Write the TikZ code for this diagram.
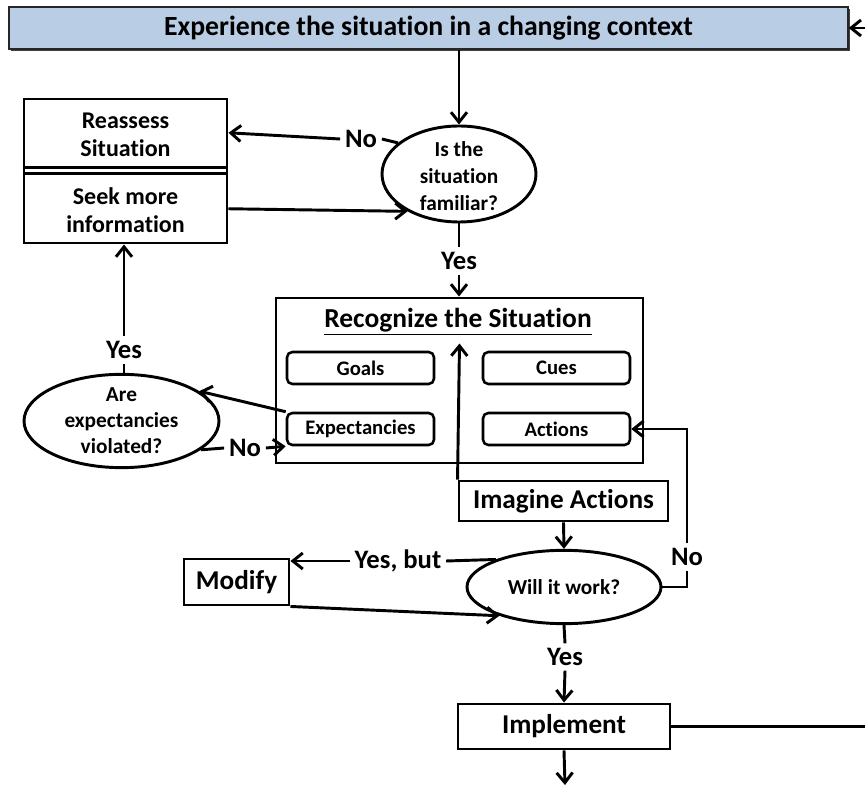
\documentclass[tikz,border=0pt]{standalone}
\usepackage{fontspec}
\setmainfont{Carlito}[Ligatures=CommonOff]
\usetikzlibrary{arrows.meta,shapes.geometric,calc,shadows}
\definecolor{barblue}{HTML}{B9CDE5}
\newcommand{\fsz}[2]{\fontsize{#1}{#2}\selectfont\bfseries}
\begin{document}
\begin{tikzpicture}[x=0.75pt,y=-0.75pt,
  conn/.style={line width=2.2pt},
  arr/.style={conn,-{Straight Barb[length=7.5pt,width=12pt]}},
  box/.style={draw,line width=2.2pt,rectangle,inner sep=0pt,align=center},
  oval/.style={draw,line width=2.2pt,ellipse,inner sep=0pt,align=center},
  chip/.style={draw,line width=1.9pt,rounded corners=4pt,inner sep=0pt,
    minimum width=110.25pt,minimum height=24pt,font=\fsz{15.5}{18}},
  lbl/.style={inner sep=3.5pt,font=\fsz{20}{22}}
]
\useasboundingbox (0,0) rectangle (865,787);

% header bar
\node[draw=black!85,line width=1pt,fill=barblue,minimum width=629.25pt,minimum height=31.5pt,inner sep=0pt,
  drop shadow={shadow xshift=1.5pt,shadow yshift=-1.5pt,fill=black!75,opacity=1},
  font=\fsz{20.8}{24}] (bar) at (428.5,28) {Experience the situation in a changing context};

% reassess / seek box
\node[box,minimum width=152.25pt,minimum height=108pt] (assessbox) at (125.5,171) {};
\node[align=center,inner sep=0pt,font=\fsz{18}{21}] (reassess) at (125.5,135) {Reassess\\Situation};
\node[align=center,inner sep=0pt,font=\fsz{18}{21}] (seek) at (125.5,210) {Seek more\\information};
\draw[line width=2.2pt] ($(assessbox.north west)!0.479!(assessbox.south west)$) -- ($(assessbox.north east)!0.479!(assessbox.south east)$);
\draw[line width=2.2pt] ($(assessbox.north west)!0.514!(assessbox.south west)$) -- ($(assessbox.north east)!0.514!(assessbox.south east)$);

% decision ovals
\node[oval,minimum width=115.5pt,minimum height=72pt] (fam) at (459,174) {};
\node[align=center,inner sep=0pt,font=\fsz{16}{20.5}] (famtext) at (459,176) {Is the\\situation\\familiar?};
\node[oval,minimum width=146.25pt,minimum height=59.25pt,font=\fsz{16}{19.5}] (viol) at (121.5,421) {Are\\expectancies\\violated?};
\node[oval,minimum width=145.5pt,minimum height=55pt,font=\fsz{16}{19}] (work) at (564,587) {Will it work?};

% recognition frame
\node[box,minimum width=275.25pt,minimum height=123.75pt] (recog) at (459.5,380.5) {};
\node[inner sep=0pt,font=\fsz{20.6}{24}] (rtitle) at (458,322) {\underline{Recognize the Situation}};
\node[chip] (goals) at (360.5,368) {Goals};
\node[chip] (cues) at (556.5,368) {Cues};
\node[chip] (expect) at (360.5,429) {Expectancies};
\node[chip] (actions) at (556.5,429) {Actions};

% action boxes
\node[box,minimum width=156.75pt,minimum height=30pt,font=\fsz{20.4}{24}] (imagine) at (563.5,501) {Imagine Actions};
\node[box,minimum width=78.75pt,minimum height=34.5pt,font=\fsz{20.4}{24}] (modify) at (236.5,582) {Modify};
\node[box,minimum width=159pt,minimum height=33.75pt,font=\fsz{20.4}{24}] (implement) at (564,726.5) {Implement};

% branch labels
\node[lbl] (notop) at (361,139) {No};
\node[lbl] (yestop) at (459,261) {Yes};
\node[lbl] (yesleft) at (124,350) {Yes};
\node[lbl] (noleft) at (245,448) {No};
\node[lbl] (yesbut) at (398,561) {Yes, but};
\node[lbl] (noright) at (687,557) {No};
\node[lbl] (yesbot) at (565,657) {Yes};

% loose ends at the page edge
\coordinate (barin) at (865,28);
\coordinate (loopout) at (865,726.5);
\coordinate (exitend) at (565,785);

% connectors
\draw[arr] (barin) -- (bar.east);
\draw[arr] (fam.north |- bar.south) -- (fam.north);
\draw[conn] (fam.153) -- (notop.east);
\draw[arr] (notop.west) -- ($(assessbox.north east)!0.24!(assessbox.south east)$);
\draw[arr] ($(assessbox.north east)!0.757!(assessbox.south east)$) -- (fam.216);
\draw[conn] (fam.south) -- (yestop.north);
\draw[arr] (yestop.south) -- (yestop.south |- recog.north);
\draw[conn] (viol.north -| yesleft) -- (yesleft.south);
\draw[arr] (yesleft.north) -- (yesleft.north |- assessbox.south);
\draw[arr] (expect.north west) -- (viol.21);
\draw[conn] (viol.340) -- (noleft.west);
\draw[arr] (noleft.east) -- (expect.south west);
\draw[arr] (imagine.north west) -- ($(recog.north)+(0,47)$);
\draw[arr] (imagine.south) -- (work.north);
\draw[conn] (work.east) -| (noright.south);
\draw[arr] (noright.north) |- (actions.east);
\draw[conn] (work.158) -- (yesbut.east);
\draw[arr] (yesbut.west) -- (yesbut.west -| modify.east);
\draw[arr] (modify.south east) -- (work.204);
\draw[conn] (work.south) -- (yesbot.north);
\draw[arr] (yesbot.south) -- (implement.north);
\draw[conn] (implement.east) -- (loopout);
\draw[arr] (implement.south) -- (exitend);
\end{tikzpicture}
\end{document}
